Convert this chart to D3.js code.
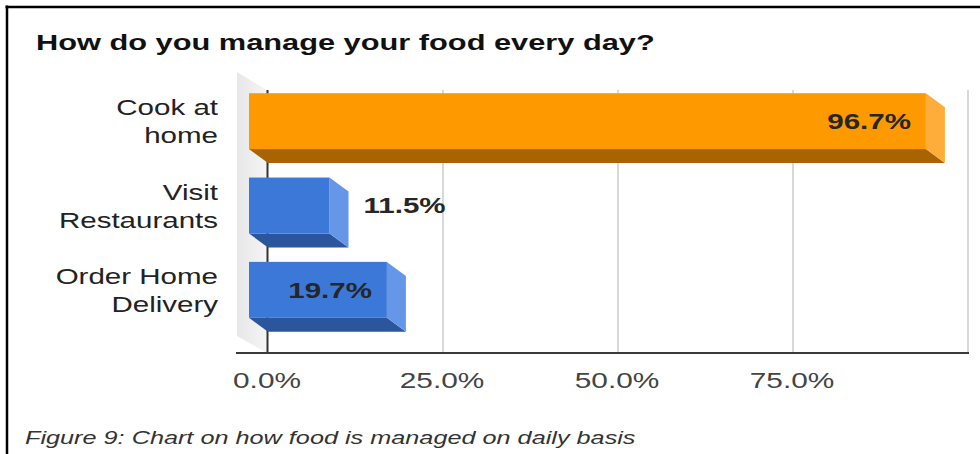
<!DOCTYPE html>
<html>
<head>
<meta charset="utf-8">
<script src="https://cdn.jsdelivr.net/npm/d3@7"></script>
<style>
  html, body { margin: 0; padding: 0; background: #fff; }
  svg { display: block; }
</style>
</head>
<body>
<svg id="chart" width="980" height="454"></svg>
<script>
// ---- data ----
const categories = ["Cook at home", "Visit Restaurants", "Order Home Delivery"];
const categoryLines = [["Cook at", "home"], ["Visit", "Restaurants"], ["Order Home", "Delivery"]];
const shares = [96.7, 11.5, 19.7];
const tickValues = [0, 25, 50, 75];
const gridValues = [25, 50, 75, 100];
const titleText = "How do you manage your food every day?";
const captionText = "Figure 9: Chart on how food is managed on daily basis";

// ---- layout / style ----
const FONT = "'Liberation Sans', Arial, sans-serif";
const SX = 1.38;                 // horizontal stretch applied to all text
const DX = 19, DY = 14;          // 3D depth offset between front and back faces
const plotTop = 90, axisY = 353; // back-plane extent
const palettes = [
  { front: "#ff9900", side: "#ffad3a", bottom: "#a86400" },
  { front: "#3c78d8", side: "#6596e8", bottom: "#2b559c" },
  { front: "#3c78d8", side: "#6596e8", bottom: "#2b559c" }
];

const svg = d3.select("#chart");

// back-plane value scale and front-plane category scale
const x = d3.scaleLinear().domain([0, 100]).range([268, 968]);
const y = d3.scaleBand().domain(categories).range([79, 332])
  .paddingInner(0.337).paddingOuter(0.1685);
const bw = y.bandwidth();
const fmt = v => d3.format(".1f")(v) + "%";

function place(sel, px, py) {
  return sel.attr("transform", `translate(${px},${py}) scale(${SX},1)`);
}

// page frame
svg.append("line").attr("x1", 5.5).attr("x2", 980).attr("y1", 7).attr("y2", 7)
  .attr("stroke", "#000").attr("stroke-width", 2.5);
svg.append("line").attr("x1", 7).attr("x2", 7).attr("y1", 5.5).attr("y2", 454)
  .attr("stroke", "#000").attr("stroke-width", 2.5);

// shaded side wall at the left of the plot
const defs = svg.append("defs");
const grad = defs.append("linearGradient").attr("id", "wall")
  .attr("x1", "0").attr("x2", "1").attr("y1", "0").attr("y2", "0");
grad.append("stop").attr("offset", "0").attr("stop-color", "#e7e7e7");
grad.append("stop").attr("offset", "1").attr("stop-color", "#f5f5f5");
const wx0 = x(0) - 31, wx1 = x(0) - 1;
svg.append("polygon")
  .attr("points", [[wx0, plotTop - 18], [wx1, plotTop], [wx1, axisY], [wx0, axisY - 17]].join(" "))
  .attr("fill", "url(#wall)");

// gridlines
svg.append("g").selectAll("line").data(gridValues).join("line")
  .attr("x1", d => x(d)).attr("x2", d => x(d))
  .attr("y1", plotTop).attr("y2", axisY)
  .attr("stroke", "#cfcfcf").attr("stroke-width", 1.6);

// zero axis
svg.append("line").attr("x1", x(0) - 0.5).attr("x2", x(0) - 0.5)
  .attr("y1", plotTop).attr("y2", axisY)
  .attr("stroke", "#333").attr("stroke-width", 2);

// horizontal axis
svg.append("line").attr("x1", x(0) - 32).attr("x2", x(100) + 1)
  .attr("y1", axisY).attr("y2", axisY)
  .attr("stroke", "#3a3a3a").attr("stroke-width", 2.2);

// 3D bars
const bars = svg.append("g").selectAll("g").data(categories).join("g");
bars.each(function (cat, i) {
  const g = d3.select(this);
  const v = shares[i], pal = palettes[i];
  const bx0 = x(0), bx1 = x(v);
  const fx0 = bx0 - DX, fx1 = bx1 - DX;
  const top = y(cat), bot = top + bw;
  g.append("polygon")
    .attr("points", [[fx0, bot], [fx1, bot], [bx1, bot + DY], [bx0, bot + DY]].join(" "))
    .attr("fill", pal.bottom);
  g.append("polygon")
    .attr("points", [[fx1, top], [bx1, top + DY], [bx1, bot + DY], [fx1, bot]].join(" "))
    .attr("fill", pal.side);
  g.append("rect").attr("x", fx0).attr("y", top).attr("width", fx1 - fx0).attr("height", bw)
    .attr("fill", pal.front);
});

// value labels
const valueSize = 21.4;
bars.each(function (cat, i) {
  const v = shares[i];
  const fx1 = x(v) - DX;
  const frontW = fx1 - (x(0) - DX);
  const cy = y(cat) + bw / 2 + 7.8;
  const inside = frontW > 120;
  const t = d3.select(this).append("text")
    .text(fmt(v))
    .attr("font-family", FONT).attr("font-size", valueSize).attr("font-weight", "bold")
    .attr("fill", "#262626")
    .attr("text-anchor", inside ? "end" : "start");
  place(t, inside ? fx1 - 15 : x(v) + 15, cy);
});

// category labels
categories.forEach((cat, i) => {
  const c = y(cat) + bw / 2;
  categoryLines[i].forEach((line, j) => {
    const t = svg.append("text").text(line)
      .attr("font-family", FONT).attr("font-size", 21.4)
      .attr("fill", "#222").attr("text-anchor", "end");
    place(t, 218, c - 6 + j * 28);
  });
});

// tick labels
tickValues.forEach(v => {
  const t = svg.append("text").text(fmt(v))
    .attr("font-family", FONT).attr("font-size", 21.6)
    .attr("fill", "#444").attr("text-anchor", "middle");
  place(t, x(v) - 1, 387.5);
});

// title
place(svg.append("text").text(titleText)
  .attr("font-family", FONT).attr("font-size", 22.3).attr("font-weight", "bold")
  .attr("fill", "#111"), 36, 49.5);

// caption
place(svg.append("text").text(captionText)
  .attr("font-family", FONT).attr("font-size", 18.3).attr("font-style", "italic")
  .attr("fill", "#333"), 25, 444);
</script>
</body>
</html>
